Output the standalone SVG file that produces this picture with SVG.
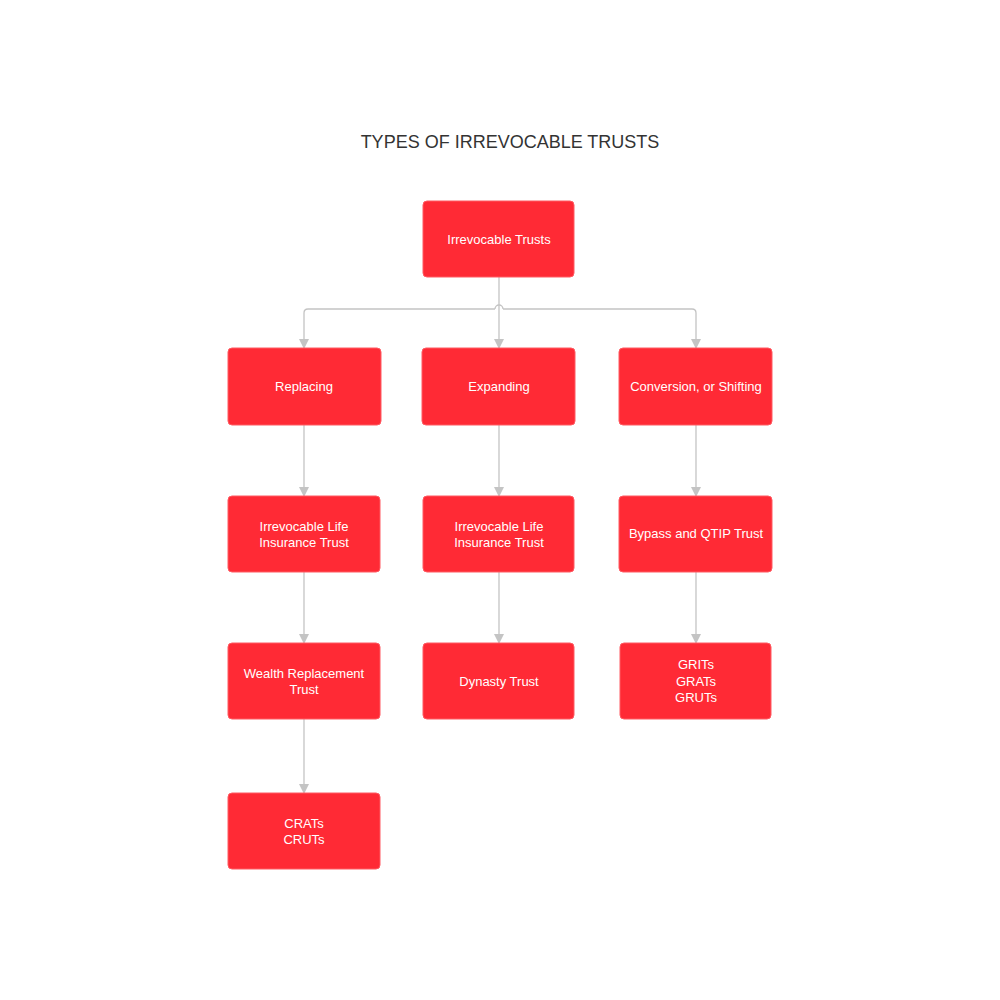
<svg xmlns="http://www.w3.org/2000/svg" width="1000" height="1000" viewBox="0 0 1000 1000">
<style>
.n{fill:#FF2A35;stroke:#FF5A62;stroke-width:1}
.t{font-family:"Liberation Sans",Arial,sans-serif;font-size:13px;fill:#fff;text-anchor:middle}
.c{fill:none;stroke:#C4C4C4;stroke-width:1.3}
</style>
<defs><marker id="a" markerWidth="10" markerHeight="10" refX="9" refY="5" orient="auto" markerUnits="userSpaceOnUse"><path d="M0,0 L10,5 L0,10 Z" fill="#C4C4C4"/></marker></defs>
<rect width="1000" height="1000" fill="#fff"/>
<text x="510" y="148" font-family="'Liberation Sans',Arial,sans-serif" font-size="18" fill="#333" text-anchor="middle">TYPES OF IRREVOCABLE TRUSTS</text>
<g id="connectors">
<path class="c" d="M499,277 V348" marker-end="url(#a)"/>
<path class="c" d="M495,309 H308 Q304,309 304,313 V348" marker-end="url(#a)"/>
<path class="c" d="M503,309 H692 Q696,309 696,313 V348" marker-end="url(#a)"/>
<path class="c" d="M495,309 A4,4 0 0 1 503,309"/>
<path class="c" d="M304,425 V496" marker-end="url(#a)"/>
<path class="c" d="M499,425 V496" marker-end="url(#a)"/>
<path class="c" d="M696,425 V496" marker-end="url(#a)"/>
<path class="c" d="M304,572 V643" marker-end="url(#a)"/>
<path class="c" d="M499,572 V643" marker-end="url(#a)"/>
<path class="c" d="M696,572 V643" marker-end="url(#a)"/>
<path class="c" d="M304,719 V793" marker-end="url(#a)"/>
</g>
<g id="root"><rect class="n" x="423" y="201" width="151" height="76" rx="4"/><text class="t" x="499" y="244">Irrevocable Trusts</text></g>
<g id="replacing"><rect class="n" x="228" y="348" width="153" height="77" rx="4"/><text class="t" x="304" y="391">Replacing</text></g>
<g id="expanding"><rect class="n" x="422" y="348" width="153" height="77" rx="4"/><text class="t" x="499" y="391">Expanding</text></g>
<g id="conversion"><rect class="n" x="619" y="348" width="153" height="77" rx="4"/><text class="t" x="696" y="391">Conversion, or Shifting</text></g>
<g id="ilit1"><rect class="n" x="228" y="496" width="152" height="76" rx="4"/><text class="t" x="304" y="531">Irrevocable Life</text><text class="t" x="304" y="547">Insurance Trust</text></g>
<g id="ilit2"><rect class="n" x="423" y="496" width="151" height="76" rx="4"/><text class="t" x="499" y="531">Irrevocable Life</text><text class="t" x="499" y="547">Insurance Trust</text></g>
<g id="bypass"><rect class="n" x="619" y="496" width="153" height="76" rx="4"/><text class="t" x="696" y="538">Bypass and QTIP Trust</text></g>
<g id="wealth"><rect class="n" x="228" y="643" width="152" height="76" rx="4"/><text class="t" x="304" y="678">Wealth Replacement</text><text class="t" x="304" y="694">Trust</text></g>
<g id="dynasty"><rect class="n" x="423" y="643" width="151" height="76" rx="4"/><text class="t" x="499" y="686">Dynasty Trust</text></g>
<g id="grits"><rect class="n" x="620" y="643" width="151" height="76" rx="4"/><text class="t" x="696" y="669">GRITs</text><text class="t" x="696" y="686">GRATs</text><text class="t" x="696" y="702">GRUTs</text></g>
<g id="crats"><rect class="n" x="228" y="793" width="152" height="76" rx="4"/><text class="t" x="304" y="828">CRATs</text><text class="t" x="304" y="844">CRUTs</text></g>
</svg>
